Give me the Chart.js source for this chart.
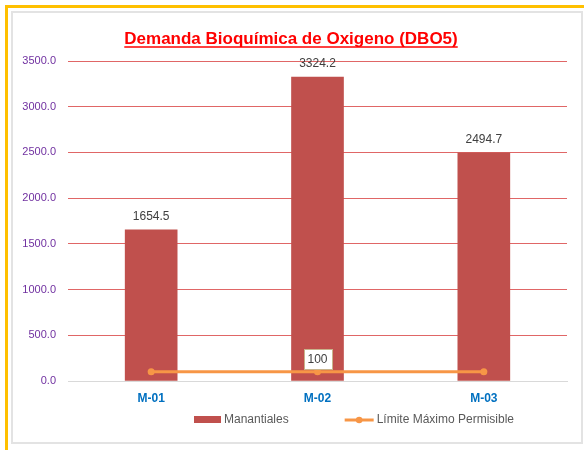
<!DOCTYPE html>
<html>
<head>
<meta charset="utf-8">
<script src="https://cdn.jsdelivr.net/npm/chart.js@4.4.1/dist/chart.umd.min.js"></script>
<style>
  html, body { margin: 0; padding: 0; background: #fff; }
  body { width: 584px; height: 450px; position: relative; overflow: hidden; }
  #outer { position: absolute; left: 5px; top: 5px; width: 600px; height: 460px; border: 3px solid #FFC000; box-sizing: border-box; }
  #inner { position: absolute; left: 11px; top: 11px; width: 572px; height: 433px; border: 2px solid #E3E3E3; box-sizing: border-box; }
  #wrap { position: absolute; left: 0; top: 0; width: 584px; height: 450px; }
</style>
</head>
<body>
<div id="outer"></div>
<div id="inner"></div>
<div id="wrap"><canvas id="c" width="584" height="450"></canvas></div>
<script>
const chartTitle = 'Demanda Bioquímica de Oxigeno (DBO5)';
const categories = ['M-01', 'M-02', 'M-03'];
const manantiales = [1654.5, 3324.2, 2494.7];
const limiteMaximo = [100, 100, 100];
const seriesNames = ['Manantiales', 'Límite Máximo Permisible'];
const yTicks = [0, 500, 1000, 1500, 2000, 2500, 3000, 3500];

const FONT = "'Liberation Sans', Arial, sans-serif";
const BAR_COLOR = '#C0504D';
const LINE_COLOR = '#F79646';

const labelPlugin = {
  id: 'valueLabels',
  afterDatasetsDraw(chart) {
    const ctx = chart.ctx;
    ctx.save();
    const barMeta = chart.getDatasetMeta(0);
    ctx.font = '12px ' + FONT;
    ctx.fillStyle = '#404040';
    ctx.textAlign = 'center';
    ctx.textBaseline = 'middle';
    barMeta.data.forEach((el, i) => {
      ctx.fillText(manantiales[i].toFixed(1), el.x, el.y - 13);
    });
    const lineMeta = chart.getDatasetMeta(1);
    const p = lineMeta.data[1];
    const txt = String(limiteMaximo[1]);
    const w = 28, h = 20;
    const bx = Math.round(p.x - w / 2), by = Math.round(p.y - 3 - h);
    ctx.fillStyle = '#FFFFFF';
    ctx.fillRect(bx, by, w, h);
    ctx.strokeStyle = '#C8B48C';
    ctx.lineWidth = 1;
    ctx.strokeRect(bx + 0.5, by + 0.5, w, h);
    ctx.fillStyle = '#404040';
    ctx.fillText(txt, p.x, by + h / 2 + 1);
    ctx.restore();
  }
};

const titleLegendPlugin = {
  id: 'titleLegend',
  afterDraw(chart) {
    const ctx = chart.ctx;
    ctx.save();
    // title
    ctx.font = 'bold 17px ' + FONT;
    ctx.fillStyle = '#FF0000';
    ctx.textAlign = 'center';
    ctx.textBaseline = 'alphabetic';
    const tx = 291, ty = 44;
    ctx.fillText(chartTitle, tx, ty);
    const tw = ctx.measureText(chartTitle).width;
    ctx.strokeStyle = '#FF0000';
    ctx.lineWidth = 1.5;
    ctx.beginPath();
    ctx.moveTo(tx - tw / 2, ty + 3); ctx.lineTo(tx + tw / 2, ty + 3);
    ctx.stroke();

    // legend
    ctx.font = '12px ' + FONT;
    ctx.textAlign = 'left';
    ctx.textBaseline = 'middle';
    const w1 = ctx.measureText(seriesNames[0]).width;
    const w2 = ctx.measureText(seriesNames[1]).width;
    const gap = 56;
    const total = 27 + 3 + w1 + gap + 29 + 3 + w2;
    let x = 354 - total / 2;
    const ly = 420;
    ctx.fillStyle = BAR_COLOR;
    ctx.fillRect(Math.round(x), ly - 4, 27, 7);
    x += 30;
    ctx.fillStyle = '#595959';
    ctx.fillText(seriesNames[0], x, ly);
    x += w1 + gap;
    ctx.strokeStyle = LINE_COLOR;
    ctx.lineWidth = 3;
    ctx.beginPath(); ctx.moveTo(x, ly); ctx.lineTo(x + 29, ly); ctx.stroke();
    ctx.fillStyle = LINE_COLOR;
    ctx.beginPath(); ctx.arc(x + 14.5, ly, 3.3, 0, Math.PI * 2); ctx.fill();
    x += 32;
    ctx.fillStyle = '#595959';
    ctx.fillText(seriesNames[1], x, ly);
    ctx.restore();
  }
};

new Chart(document.getElementById('c'), {
  data: {
    labels: categories,
    datasets: [
      {
        type: 'bar',
        label: seriesNames[0],
        data: manantiales,
        backgroundColor: BAR_COLOR,
        borderWidth: 0,
        barThickness: 52,
        order: 1
      },
      {
        type: 'line',
        label: seriesNames[1],
        data: limiteMaximo,
        borderColor: LINE_COLOR,
        backgroundColor: LINE_COLOR,
        borderWidth: 3,
        pointRadius: 3.5,
        pointHoverRadius: 3.5,
        pointBackgroundColor: LINE_COLOR,
        pointBorderWidth: 0,
        order: 0
      }
    ]
  },
  options: {
    responsive: false,
    animation: false,
    events: [],
    layout: { padding: { left: 0, right: 17, top: 61, bottom: 46 } },
    plugins: {
      title: { display: false },
      legend: { display: false },
      tooltip: { enabled: false }
    },
    scales: {
      x: {
        offset: true,
        afterFit(scale) { scale.height = 23; },
        grid: { display: false, drawTicks: false },
        border: { display: true, color: '#D9D9D9', width: 1 },
        ticks: {
          color: '#0070C0',
          font: { family: FONT, size: 12, weight: 'bold' },
          padding: 10
        }
      },
      y: {
        min: 0,
        max: 3500,
        afterBuildTicks(scale) { scale.ticks = yTicks.map(v => ({ value: v })); },
        afterFit(scale) { scale.width = 68; },
        grid: {
          drawTicks: false,
          color: (c) => (c.tick && c.tick.value === 0 ? '#D9D9D9' : '#E06666'),
          lineWidth: 1
        },
        border: { display: false },
        ticks: {
          color: '#7030A0',
          font: { family: FONT, size: 11 },
          padding: 12,
          callback: (v) => Number(v).toFixed(1)
        }
      }
    }
  },
  plugins: [labelPlugin, titleLegendPlugin]
});
</script>
</body>
</html>
